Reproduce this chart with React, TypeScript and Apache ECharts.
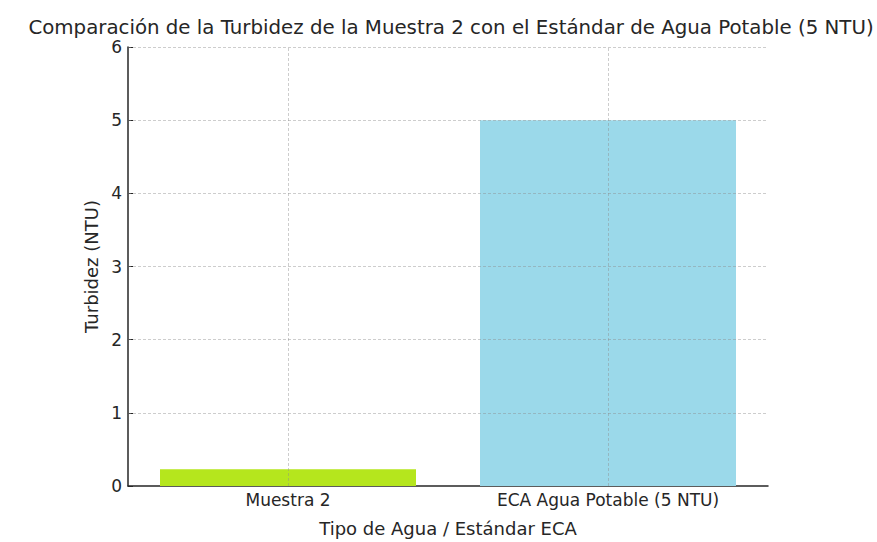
import React, { useEffect, useRef } from "react";
import * as echarts from "echarts";

const categories = ["Muestra 2", "ECA Agua Potable (5 NTU)"];
const values = [0.23, 5];
const barColors = ["#b5e61d", "#9bd9ea"];
const yTicks = [0, 1, 2, 3, 4, 5, 6];

const FONT = "DejaVu Sans";
const TEXT = "#262626";

export default function App() {
  const ref = useRef<HTMLDivElement>(null);
  useEffect(() => {
    const chart = echarts.init(ref.current!, null, { renderer: "svg" });
    const gridColor = "rgba(140,140,140,0.55)";
    const gridLines = [
      ...categories.map((c) => ({ xAxis: c })),
      ...yTicks.filter((t) => t > 0).map((t) => ({ yAxis: t })),
    ];
    chart.setOption({
      animation: false,
      textStyle: { fontFamily: FONT },
      title: {
        text: "Comparación de la Turbidez de la Muestra 2 con el Estándar de Agua Potable (5 NTU)",
        left: 446,
        textAlign: "center",
        top: 12,
        textStyle: { fontFamily: FONT, fontSize: 19.8, fontWeight: "normal", color: TEXT },
      },
      grid: { left: 128, right: 109, top: 47, bottom: 55 },
      xAxis: {
        type: "category",
        data: categories,
        name: "Tipo de Agua / Estándar ECA",
        nameLocation: "middle",
        nameGap: 33,
        nameTextStyle: { fontFamily: FONT, fontSize: 18, color: TEXT },
        axisLine: { lineStyle: { color: TEXT, width: 1.5 } },
        axisTick: { alignWithLabel: true, inside: true, length: 5, lineStyle: { color: TEXT } },
        axisLabel: { fontFamily: FONT, fontSize: 17, color: TEXT, margin: 5 },
        splitLine: { show: false },
      },
      yAxis: {
        type: "value",
        min: 0,
        max: 6,
        interval: 1,
        name: "Turbidez (NTU)",
        nameLocation: "middle",
        nameGap: 17,
        nameTextStyle: { fontFamily: FONT, fontSize: 18, color: TEXT },
        axisLine: { show: true, lineStyle: { color: TEXT, width: 1.5 } },
        axisTick: { show: true, inside: true, length: 5, lineStyle: { color: TEXT } },
        axisLabel: {
          fontFamily: FONT,
          fontSize: 17,
          color: TEXT,
          margin: 6,
          formatter: (v: number) => (yTicks.includes(v) ? String(v) : ""),
        },
        splitLine: { show: false },
      },
      series: [
        {
          type: "bar",
          barWidth: "80%",
          data: values.map((v, i) => ({ value: v, itemStyle: { color: barColors[i] } })),
          markLine: {
            silent: true,
            symbol: ["none", "none"],
            label: { show: false },
            lineStyle: { color: gridColor, type: [3, 2], width: 0.8 },
            emphasis: { disabled: true },
            data: gridLines,
          },
        },
      ],
    });
    return () => chart.dispose();
  }, []);
  return (
    <div
      ref={ref}
      style={{ position: "fixed", left: 0, top: 0, width: 877, height: 542, background: "#fff" }}
    />
  );
}
